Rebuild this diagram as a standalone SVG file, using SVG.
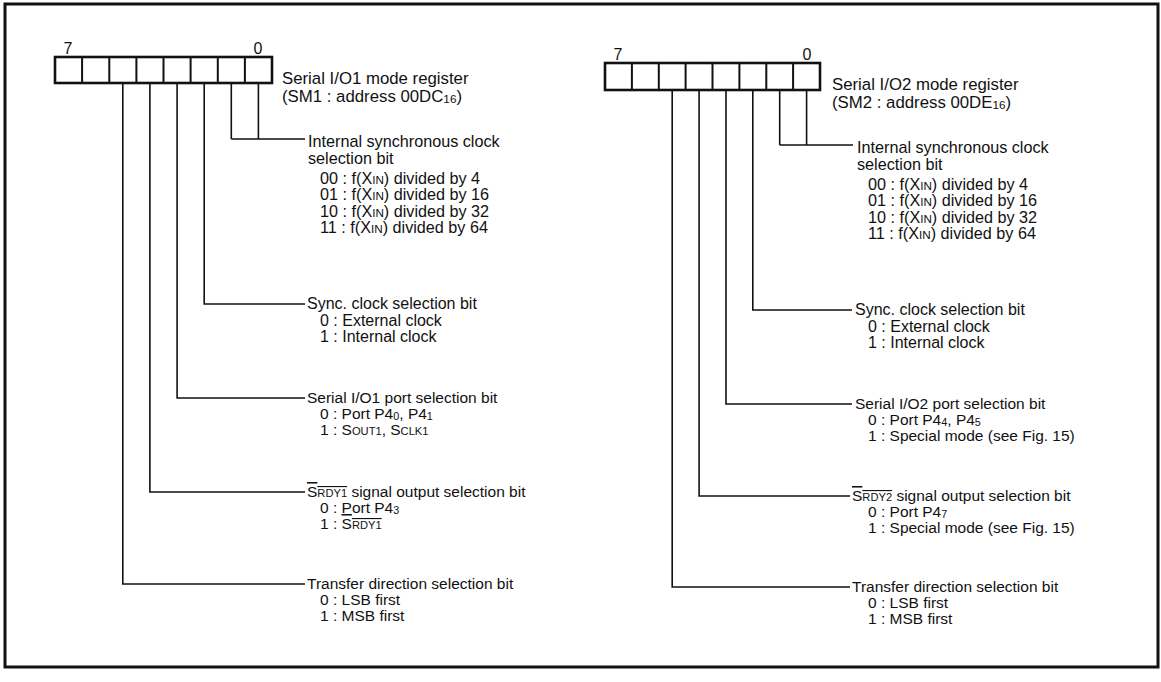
<svg xmlns="http://www.w3.org/2000/svg" width="1161" height="682" viewBox="0 0 1161 682">
<style>
text{font-family:"Liberation Sans",Arial,Helvetica,sans-serif;font-size:15.5px;fill:#111}
.t18{font-size:16.8px}
.t17{font-size:16.2px}
.t16{font-size:16px}
.num{font-size:16px;text-anchor:middle}
.sc{font-size:0.72em}
.sub{font-size:0.7em;baseline-shift:-1px}
.ol{text-decoration:overline}
.reg{fill:#fff;stroke:#111;stroke-width:2.6}
.div{stroke:#111;stroke-width:2}
.con{fill:none;stroke:#111;stroke-width:1.6}
</style>
<rect x="5" y="4" width="1153" height="663" fill="none" stroke="#111" stroke-width="3"/>

<g id="register1">
<rect class="reg" x="55" y="57" width="217" height="26"/>
<path class="div" d="M82.1 57V83M109.3 57V83M136.4 57V83M163.5 57V83M190.6 57V83M217.8 57V83M244.9 57V83"/>
<text class="num" x="68" y="54">7</text>
<text class="num" x="258" y="54">0</text>
<text class="t18" x="282" y="84">Serial I/O1 mode register</text>
<text class="t18" x="282" y="102">(SM1 : address 00DC<tspan class="sub">16</tspan>)</text>
</g>

<g id="register2">
<rect class="reg" x="605" y="63" width="215" height="27"/>
<path class="div" d="M631.9 63V90M658.8 63V90M685.6 63V90M712.5 63V90M739.4 63V90M766.3 63V90M793.1 63V90"/>
<text class="num" x="618" y="60">7</text>
<text class="num" x="807" y="60">0</text>
<text class="t18" x="832" y="90">Serial I/O2 mode register</text>
<text class="t18" x="832" y="108">(SM2 : address 00DE<tspan class="sub">16</tspan>)</text>
</g>

<g id="connectors">
<path class="con" d="M231.3 83V139M258.4 83V139M231.3 139H305"/>
<path class="con" d="M204.2 83V304H305"/>
<path class="con" d="M177.1 83V398H305"/>
<path class="con" d="M149.9 83V492H305"/>
<path class="con" d="M122.8 83V584H305"/>
<path class="con" d="M779.7 90V145M806.6 90V145M779.7 145H853"/>
<path class="con" d="M752.8 90V310H852"/>
<path class="con" d="M726 90V404H852"/>
<path class="con" d="M699.1 90V496H850"/>
<path class="con" d="M672.2 90V587H850"/>
</g>

<g id="sm1-internal-clock">
<text class="t17" x="308" y="147">Internal synchronous clock</text>
<text class="t17" x="308" y="163.5">selection bit</text>
<text class="t17" x="320" y="183.5">00 : f(X<tspan class="sc">IN</tspan>) divided by 4</text>
<text class="t17" x="320" y="200">01 : f(X<tspan class="sc">IN</tspan>) divided by 16</text>
<text class="t17" x="320" y="216.5">10 : f(X<tspan class="sc">IN</tspan>) divided by 32</text>
<text class="t17" x="320" y="233">11 : f(X<tspan class="sc">IN</tspan>) divided by 64</text>
</g>
<g id="sm1-sync-clock">
<text class="t16" x="307" y="309">Sync. clock selection bit</text>
<text class="t16" x="320" y="325.5">0 : External clock</text>
<text class="t16" x="320" y="342">1 : Internal clock</text>
</g>
<g id="sm1-port">
<text x="307" y="403">Serial I/O1 port selection bit</text>
<text x="320" y="419">0 : Port P4<tspan class="sub">0</tspan>, P4<tspan class="sub">1</tspan></text>
<text x="320" y="435">1 : S<tspan class="sc">OUT1</tspan>, S<tspan class="sc">CLK1</tspan></text>
</g>
<g id="sm1-srdy">
<text x="307" y="497"><tspan class="ol">S<tspan class="sc">RDY1</tspan></tspan> signal output selection bit</text>
<text x="320" y="513">0 : Port P4<tspan class="sub">3</tspan></text>
<text x="320" y="529">1 : <tspan class="ol">S<tspan class="sc">RDY1</tspan></tspan></text>
</g>
<g id="sm1-transfer">
<text x="307" y="589">Transfer direction selection bit</text>
<text x="320" y="605">0 : LSB first</text>
<text x="320" y="621">1 : MSB first</text>
</g>

<g id="sm2-internal-clock">
<text class="t17" x="857" y="153">Internal synchronous clock</text>
<text class="t17" x="857" y="169.5">selection bit</text>
<text class="t17" x="868" y="189.5">00 : f(X<tspan class="sc">IN</tspan>) divided by 4</text>
<text class="t17" x="868" y="206">01 : f(X<tspan class="sc">IN</tspan>) divided by 16</text>
<text class="t17" x="868" y="222.5">10 : f(X<tspan class="sc">IN</tspan>) divided by 32</text>
<text class="t17" x="868" y="239">11 : f(X<tspan class="sc">IN</tspan>) divided by 64</text>
</g>
<g id="sm2-sync-clock">
<text class="t16" x="855" y="315">Sync. clock selection bit</text>
<text class="t16" x="868" y="331.5">0 : External clock</text>
<text class="t16" x="868" y="348">1 : Internal clock</text>
</g>
<g id="sm2-port">
<text x="855" y="409">Serial I/O2 port selection bit</text>
<text x="868" y="425">0 : Port P4<tspan class="sub">4</tspan>, P4<tspan class="sub">5</tspan></text>
<text x="868" y="441">1 : Special mode (see Fig. 15)</text>
</g>
<g id="sm2-srdy">
<text x="852" y="501"><tspan class="ol">S<tspan class="sc">RDY2</tspan></tspan> signal output selection bit</text>
<text x="868" y="517">0 : Port P4<tspan class="sub">7</tspan></text>
<text x="868" y="533">1 : Special mode (see Fig. 15)</text>
</g>
<g id="sm2-transfer">
<text x="852" y="592">Transfer direction selection bit</text>
<text x="868" y="608">0 : LSB first</text>
<text x="868" y="624">1 : MSB first</text>
</g>
</svg>
